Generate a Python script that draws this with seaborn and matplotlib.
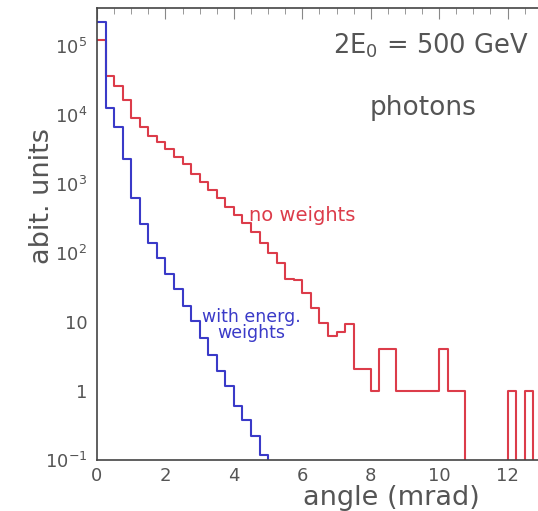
import numpy as np
import pandas as pd
import seaborn as sns
from matplotlib import pyplot as plt
from matplotlib.ticker import FixedLocator, FixedFormatter, MultipleLocator, LogLocator, NullFormatter

# bin edges in mrad (0.25 mrad bins)
edges = [i * 0.25 for i in range(53)]

# counts per bin
no_weights = [120000, 37000, 26000, 16500, 9100, 6600, 5000, 4000, 3200, 2500,
              1950, 1400, 1070, 830, 620, 470, 355, 270, 200, 140,
              100, 71, 42, 40, 26, 16, 9.6, 6.3, 7.2, 9.3,
              2.1, 2.1, 1, 4, 4, 1, 1, 1, 1, 1,
              4, 1, 1, 0, 0, 0, 0, 0, 1, 0,
              1, 0]
with_weights = [220000, 12500, 6600, 2300, 620, 263, 141, 84, 50, 30,
                17, 10.5, 5.8, 3.3, 1.95, 1.2, 0.6, 0.38, 0.22, 0.118] + [0] * 32

xtick_vals = [0, 2, 4, 6, 8, 10, 12]
ytick_vals = [0.1, 1, 10, 100, 1e3, 1e4, 1e5]
ytick_labels = [r"$\mathregular{10^{-1}}$", "1", "10", r"$\mathregular{10^{2}}$",
                r"$\mathregular{10^{3}}$", r"$\mathregular{10^{4}}$", r"$\mathregular{10^{5}}$"]

centers = np.array(edges[:-1]) + 0.125
df = pd.DataFrame({"angle": np.concatenate([centers, centers]),
                   "w": no_weights + with_weights,
                   "kind": ["no"] * len(centers) + ["with"] * len(centers)})

sns.set_style("white")
plt.rcParams["font.family"] = ["DejaVu Sans"]
grey = "#555555"
red = "#dc3c4a"
blue = "#3a3ac8"

fig = plt.figure(figsize=(5.38, 5.11), dpi=100)
# axes run past the right edge of the image, like the cropped original
ax = fig.add_axes([97 / 538, 51 / 511, 479 / 538, 452 / 511])

sns.histplot(data=df[df.kind == "no"], x="angle", weights="w", bins=edges,
             element="step", fill=False, color=red, linewidth=1.5, ax=ax)
sns.histplot(data=df[df.kind == "with"], x="angle", weights="w", bins=edges,
             element="step", fill=False, color=blue, linewidth=1.5, ax=ax)

ax.set_yscale("log")
ax.set_xlim(0, 14)
ax.set_ylim(0.1, 10 ** 5.55)

for s in ax.spines.values():
    s.set_color("#444444")
    s.set_linewidth(1.2)

ax.xaxis.set_major_locator(FixedLocator(xtick_vals))
ax.xaxis.set_minor_locator(MultipleLocator(0.5))
ax.yaxis.set_major_locator(FixedLocator(ytick_vals))
ax.yaxis.set_major_formatter(FixedFormatter(ytick_labels))
ax.yaxis.set_minor_locator(LogLocator(base=10, subs=np.arange(2, 10)))
ax.yaxis.set_minor_formatter(NullFormatter())
ax.tick_params(which="both", direction="in", top=True, right=True,
               colors="#888888", labelcolor=grey, labelsize=13)
ax.tick_params(which="major", length=8, width=0.8)
ax.tick_params(which="minor", length=4, width=0.6)
ax.tick_params(axis="x", pad=5)
ax.tick_params(axis="y", pad=7)

ax.set_xlabel("angle (mrad)", fontsize=19.5, color=grey)
ax.xaxis.set_label_coords(0.614, -0.084)
ax.xaxis.label.set_va("center")
ax.set_ylabel("abit. units", fontsize=19.5, color=grey)
ax.yaxis.set_label_coords(-0.115, 0.585)
ax.yaxis.label.set_va("center")

ax.text(6.9, 10 ** 5.01, r"2E$_\mathregular{0}$ = 500 GeV", fontsize=18.5, color=grey,
        ha="left", va="center")
ax.text(7.98, 10 ** 4.1, "photons", fontsize=19, color=grey, ha="left", va="center")
ax.text(4.45, 355, "no weights", fontsize=14, color=red, ha="left", va="center")
ax.text(4.5, 9.0, "with energ.\nweights", fontsize=12.5, color=blue, ha="center",
        va="center", linespacing=0.85)

plt.savefig("out.png", dpi=100)
